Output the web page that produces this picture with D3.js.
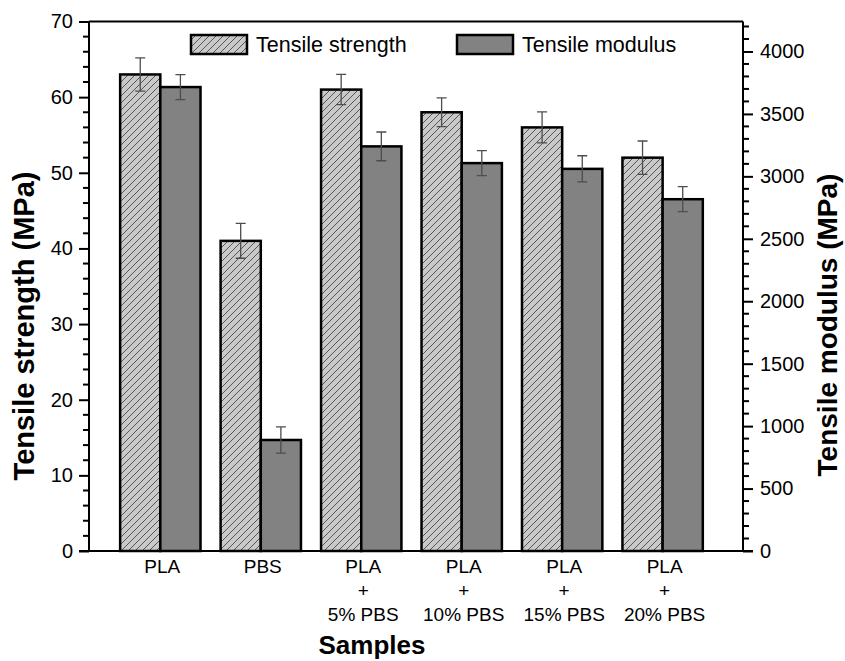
<!DOCTYPE html>
<html>
<head>
<meta charset="utf-8">
<script src="https://cdn.jsdelivr.net/npm/d3@7"></script>
<style>
  body { margin: 0; background: #fff; }
  text { font-family: "Liberation Sans", Arial, sans-serif; fill: #000; }
</style>
</head>
<body>
<script>
var width = 845,
    height = 661;

// data
var samples = [["PLA"], ["PBS"], ["PLA", "+", "5% PBS"], ["PLA", "+", "10% PBS"],
               ["PLA", "+", "15% PBS"], ["PLA", "+", "20% PBS"]];
var strength = [63, 41, 61, 58, 56, 52];
var strengthErr = [2.2, 2.3, 2.0, 1.9, 2.05, 2.2];
var modulus = [3715, 889, 3240, 3106, 3060, 2817];
var modulusErr = [100, 105, 115, 100, 105, 100];
var leftTicks = [0, 10, 20, 30, 40, 50, 60, 70];
var rightTicks = [0, 500, 1000, 1500, 2000, 2500, 3000, 3500, 4000];

// plot box (window.top is reserved, so other names)
var pLeft = 89, pRight = 743, pTop = 21.5, pBottom = 551;

var svg = d3.select("body").append("svg")
            .attr("width", width)
            .attr("height", height)

var defs = svg.append("defs");
var pat = defs.append("pattern")
              .attr("id", "hatch")
              .attr("patternUnits", "userSpaceOnUse")
              .attr("width", 7)
              .attr("height", 7);
pat.append("rect").attr("width", 7).attr("height", 7).attr("fill", "#c9c9c9");
pat.append("path")
   .attr("d", "M-1,8 L8,-1 M-1,1 L1,-1 M6,8 L8,6")
   .attr("stroke", "#4a4a4a")
   .attr("stroke-width", 0.9);

var x = d3.scaleLinear().domain([-0.71, 5.8]).range([pLeft, pRight]);
var yL = d3.scaleLinear().domain([0, 70]).range([pBottom, pTop]);
var yR = d3.scaleLinear().domain([0, 4240]).range([pBottom, pTop]);
var barW = 0.4;

// bars
var g = svg.selectAll(".grp")
           .data(samples)
           .enter()
           .append("g")
           .attr("class", "grp");

g.append("rect")
 .attr("x", function(d, i){ return x(i - barW); })
 .attr("y", function(d, i){ return yL(strength[i]); })
 .attr("width", x(barW) - x(0))
 .attr("height", function(d, i){ return pBottom - yL(strength[i]); })
 .attr("fill", "url(#hatch)")
 .attr("stroke", "#000")
 .attr("stroke-width", 2.5);

g.append("rect")
 .attr("x", function(d, i){ return x(i); })
 .attr("y", function(d, i){ return yR(modulus[i]); })
 .attr("width", x(barW) - x(0))
 .attr("height", function(d, i){ return pBottom - yR(modulus[i]); })
 .attr("fill", "#828282")
 .attr("stroke", "#000")
 .attr("stroke-width", 2.5);

// error bars
function errBar(sel, cx, y1, y2) {
  var p = d3.path();
  p.moveTo(cx, y1); p.lineTo(cx, y2);
  p.moveTo(cx - 5, y1); p.lineTo(cx + 5, y1);
  p.moveTo(cx - 5, y2); p.lineTo(cx + 5, y2);
  sel.append("path").attr("d", p.toString())
     .attr("stroke", "#4d4d4d").attr("stroke-width", 1.3).attr("fill", "none");
}
g.each(function(d, i){
  var s = d3.select(this);
  errBar(s, x(i - barW / 2), yL(strength[i] + strengthErr[i]), yL(strength[i] - strengthErr[i]));
  errBar(s, x(i + barW / 2), yR(modulus[i] + modulusErr[i]), yR(modulus[i] - modulusErr[i]));
});

// frame
svg.append("line").attr("x1", pLeft).attr("x2", pRight).attr("y1", pTop).attr("y2", pTop)
   .attr("stroke", "#000").attr("stroke-width", 2);
svg.append("line").attr("x1", pLeft - 10).attr("x2", pRight + 10).attr("y1", pBottom).attr("y2", pBottom)
   .attr("stroke", "#000").attr("stroke-width", 2);

// left axis
var axL = d3.axisLeft(yL).tickValues(leftTicks).tickSize(10).tickPadding(6);
var gL = svg.append("g").attr("transform", "translate(" + pLeft + ",0)").call(axL);
var minorL = d3.range(0, 71, 2).filter(function(v){ return v % 10 != 0; });
gL.selectAll(".minor").data(minorL).enter().append("line")
  .attr("x1", -6).attr("x2", 0)
  .attr("y1", function(d){ return yL(d); }).attr("y2", function(d){ return yL(d); })
  .attr("stroke", "#000").attr("stroke-width", 2);

// right axis
var axR = d3.axisRight(yR).tickValues(rightTicks).tickFormat(d3.format("d"))
            .tickSize(10).tickPadding(7);
var gR = svg.append("g").attr("transform", "translate(" + pRight + ",0)").call(axR);
var minorR = d3.range(100, 4240, 100).filter(function(v){ return v % 500 != 0; });
gR.selectAll(".minor").data(minorR).enter().append("line")
  .attr("x1", 0).attr("x2", 6)
  .attr("y1", function(d){ return yR(d); }).attr("y2", function(d){ return yR(d); })
  .attr("stroke", "#000").attr("stroke-width", 2);

[gL, gR].forEach(function(a){
  a.attr("font-size", 20).attr("font-family", "Liberation Sans, Arial, sans-serif");
  a.select(".domain").attr("stroke-width", 2).attr("d", "M0," + pTop + "V" + pBottom);
  a.selectAll(".tick line").attr("stroke-width", 2);
});

// category labels
var lab = svg.selectAll(".lab")
             .data(samples)
             .enter()
             .append("text")
             .attr("class", "lab")
             .attr("text-anchor", "middle")
             .attr("font-size", 19);
lab.selectAll("tspan")
   .data(function(d, i){ return d.map(function(t){ return {t: t, i: i}; }); })
   .enter()
   .append("tspan")
   .attr("x", function(d){ return x(d.i) + 2; })
   .attr("y", function(d, j){ return 573 + j * 24; })
   .text(function(d){ return d.t; });

// axis titles
svg.append("text")
   .attr("x", 372).attr("y", 654)
   .attr("text-anchor", "middle")
   .attr("font-size", 26).attr("font-weight", "bold")
   .text("Samples");

svg.append("text")
   .attr("transform", "translate(34,326) rotate(-90)")
   .attr("text-anchor", "middle")
   .attr("font-size", 29).attr("font-weight", "bold")
   .text("Tensile strength (MPa)");

svg.append("text")
   .attr("transform", "translate(837,325) rotate(-90)")
   .attr("text-anchor", "middle")
   .attr("font-size", 28).attr("font-weight", "bold")
   .text("Tensile modulus (MPa)");

// legend
var legend = [{name: "Tensile strength", fill: "url(#hatch)", x: 191},
              {name: "Tensile modulus", fill: "#828282", x: 457}];
var lg = svg.selectAll(".leg").data(legend).enter().append("g").attr("class", "leg");
lg.append("rect")
  .attr("x", function(d){ return d.x; }).attr("y", 35)
  .attr("width", 56).attr("height", 19)
  .attr("fill", function(d){ return d.fill; })
  .attr("stroke", "#000").attr("stroke-width", 2.5);
lg.append("text")
  .attr("x", function(d){ return d.x + 65; }).attr("y", 52)
  .attr("font-size", 21.5)
  .text(function(d){ return d.name; });
</script>
</body>
</html>
